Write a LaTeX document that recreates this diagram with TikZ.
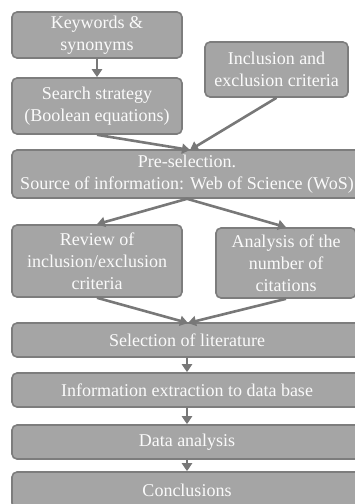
\documentclass[tikz,border=0pt]{standalone}
\usepackage{fontspec}
\setmainfont{Liberation Serif}
\usetikzlibrary{arrows.meta}
\definecolor{boxfill}{RGB}{165,165,165}
\definecolor{boxline}{RGB}{125,125,125}
\definecolor{arrowc}{RGB}{120,120,120}
\definecolor{txt}{RGB}{250,250,250}
\begin{document}
\begin{tikzpicture}[x=1pt,y=-1pt,
  box/.style={draw=boxline,fill=boxfill,line width=1.6pt,rounded corners=5pt,
    text=txt,align=center,font=\fontsize{18}{22}\selectfont,inner sep=1pt},
  arr/.style={draw=arrowc,line width=2.6pt,-{Triangle[length=8pt,width=10pt]}}]
\useasboundingbox (0,0) rectangle (355,504);
\clip (0,0) rectangle (355,504);
\node[box,minimum width=170pt,minimum height=46pt] (kw) at (97,35) {Keywords \&\\synonyms};
\node[box,minimum width=170pt,minimum height=56pt] (ss) at (97,106) {Search strategy\\(Boolean equations)};
\node[box,minimum width=143pt,minimum height=55pt] (inc) at (276.5,69.5) {Inclusion and\\exclusion criteria};
\node[box,minimum width=350pt,minimum height=48pt] (pre) at (187,174) {Pre-selection.\\Source of information: Web of Science (WoS)};
\node[box,minimum width=170pt,minimum height=72pt] (rev) at (97,261) {Review of\\inclusion/exclusion\\criteria};
\node[box,minimum width=140pt,minimum height=70pt] (ana) at (286,263) {Analysis of the\\number of\\citations};
\node[box,minimum width=350pt,minimum height=34pt] (sel) at (187,340) {Selection of literature};
\node[box,minimum width=350pt,minimum height=34pt] (inf) at (187,390) {Information extraction to data base};
\node[box,minimum width=350pt,minimum height=34pt] (da) at (187,442) {Data analysis};
\node[box,minimum width=350pt,minimum height=36pt] (con) at (187,490) {Conclusions};
\coordinate (pin) at (190,150);
\coordinate (sin) at (188,323);
\draw[arr] (kw.south) -- (ss.north);
\draw[arr] (ss.south) -- (pin);
\draw[arr] (inc.south) -- (pin);
\draw[arr] (pre.south) -- (rev.north);
\draw[arr] (pre.south) -- (ana.north);
\draw[arr] (rev.south) -- (sin);
\draw[arr] (ana.south) -- (sin);
\draw[arr] (sel.south) -- (inf.north);
\draw[arr] (inf.south) -- (da.north);
\draw[arr] (da.south) -- (con.north);
\end{tikzpicture}
\end{document}
